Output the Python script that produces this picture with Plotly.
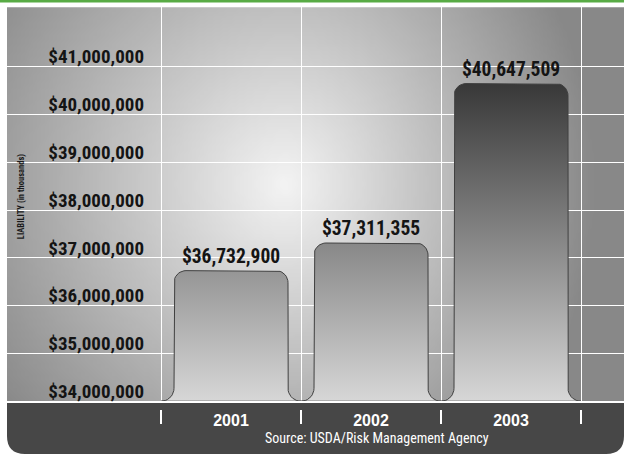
import base64
import struct
import zlib

import numpy as np
import plotly.graph_objects as go

# ---------------- data ----------------
years = ["2001", "2002", "2003"]
liability = [36732900, 37311355, 40647509]
y_tick_values = [34000000, 35000000, 36000000, 37000000, 38000000, 39000000, 40000000, 41000000]
y_tick_labels = ["$34,000,000", "$35,000,000", "$36,000,000", "$37,000,000",
                 "$38,000,000", "$39,000,000", "$40,000,000", "$41,000,000"]
axis_title = "LIABILITY (in thousands)"
source_note = "Source: USDA/Risk Management Agency"

# ---------------- layout geometry (style) ----------------
W, H = 624, 456
ML, MT = 7, 6
plot_w = W - ML
plot_h = H - MT
base_px = 403            # pixel row of the baseline
px_per_cat = 140.0
px_per_unit = 48.0 / 1e6
cat0_px = 231.0
x0 = -(cat0_px - ML) / px_per_cat
x1 = x0 + plot_w / px_per_cat
ymin = y_tick_values[0]
ymax = ymin + (base_px - MT) / px_per_unit
ydom0 = (H - base_px) / plot_h
label_axis_px = 144      # right edge of the y tick labels

COND = "Roboto Condensed, DejaVu Sans Condensed, sans-serif"


# ---------------- background image (radial grey glow) ----------------
def make_png(gray):
    h, w = gray.shape
    raw = b"".join(b"\x00" + bytes(row) for row in gray.astype(np.uint8))

    def chunk(tag, data):
        c = struct.pack(">I", len(data)) + tag + data
        return c + struct.pack(">I", zlib.crc32(tag + data) & 0xffffffff)

    png = b"\x89PNG\r\n\x1a\n"
    png += chunk(b"IHDR", struct.pack(">IIBBBBB", w, h, 8, 0, 0, 0, 0))
    png += chunk(b"IDAT", zlib.compress(raw, 9))
    png += chunk(b"IEND", b"")
    return "data:image/png;base64," + base64.b64encode(png).decode()


gw, gh = 155, 100
gx = ML + (np.arange(gw) + 0.5) * plot_w / gw
gy = MT + (np.arange(gh) + 0.5) * (base_px - MT) / gh
XX, YY = np.meshgrid(gx, gy)
cx, cy = 285.0, 185.0
sx = np.where(XX < cx, 330.0, 290.0)
d = np.sqrt(((XX - cx) / sx) ** 2 + ((YY - cy) / 340.0) ** 2)
g = 244 - 100 * d
g = np.clip(g, 136, 246)
bg_src = make_png(g)


# ---------------- bar outline built from the data ----------------
def bar_outline(ci, value, hw_px=57, rt_px=12, rb_px=13, n=10):
    top_dy = (value - ymin) * px_per_unit
    pts = []
    for t in np.linspace(-np.pi / 2, 0, n):              # left foot fillet
        pts.append((-hw_px - rb_px + rb_px * np.cos(t), rb_px + rb_px * np.sin(t)))
    for t in np.linspace(np.pi, np.pi / 2, n):           # top-left corner
        pts.append((-hw_px + rt_px + rt_px * np.cos(t), top_dy - rt_px + rt_px * np.sin(t)))
    for t in np.linspace(np.pi / 2, 0, n):               # top-right corner
        pts.append((hw_px - rt_px + rt_px * np.cos(t), top_dy - rt_px + rt_px * np.sin(t)))
    for t in np.linspace(np.pi, 1.5 * np.pi, n):         # right foot fillet
        pts.append((hw_px + rb_px + rb_px * np.cos(t), rb_px + rb_px * np.sin(t)))
    pts.append(pts[0])
    xs = [ci + p[0] / px_per_cat for p in pts]
    ys = [ymin + p[1] / px_per_unit for p in pts]
    return xs, ys


fig = go.Figure()

for i, (yr, v) in enumerate(zip(years, liability)):
    xs, ys = bar_outline(i, v)
    fig.add_trace(go.Scatter(
        x=xs, y=ys, mode="lines", fill="toself",
        line=dict(color="#404040", width=1),
        fillgradient=dict(type="vertical",
                          colorscale=[[0, "#d8d8d8"], [1, "#383838"]],
                          start=ymin, stop=max(liability)),
        hoverinfo="skip", showlegend=False, name=yr,
    ))

label_lift = 3 / px_per_unit
fig.add_trace(go.Scatter(
    x=list(range(len(years))), y=[v + label_lift for v in liability],
    xaxis="x2", yaxis="y2",
    mode="text", text=["${:,}".format(v) for v in liability],
    textposition="top center",
    textfont=dict(family=COND, size=19.5, color="#141414", weight="bold"),
    cliponaxis=False, showlegend=False, hoverinfo="skip",
))

boundaries = [i - 0.5 for i in range(len(years) + 1)]

fig.update_layout(
    width=W, height=H,
    margin=dict(l=ML, r=0, t=MT, b=0, pad=0),
    paper_bgcolor="white",
    plot_bgcolor="rgba(0,0,0,0)",
    showlegend=False,
    xaxis=dict(
        range=[x0, x1], tickmode="array", tickvals=boundaries,
        showticklabels=False, ticks="", showgrid=True, gridcolor="white", gridwidth=1,
        zeroline=False, showline=True, linecolor="white", linewidth=1.5,
        anchor="y", fixedrange=True,
    ),
    xaxis2=dict(
        range=[x0, x1], overlaying="x", anchor="free", position=(H - 411) / plot_h,
        side="bottom", tickmode="array", tickvals=list(range(len(years))), ticktext=years,
        ticks="", showgrid=False, zeroline=False, showline=False,
        tickfont=dict(family="Liberation Sans, Arial, sans-serif", size=16, color="white",
                      weight="bold"),
        minor=dict(tickmode="array", tickvals=boundaries, ticks="outside", ticklen=14,
                   tickcolor="white", tickwidth=1.5, showgrid=False),
        fixedrange=True,
    ),
    yaxis=dict(
        range=[ymin, ymax], domain=[ydom0, 1], tickmode="array",
        tickvals=y_tick_values, showticklabels=False,
        ticks="", showgrid=True, gridcolor="white", gridwidth=1, zeroline=False,
        showline=False, fixedrange=True,
    ),
    yaxis2=dict(
        range=[ymin, ymax], overlaying="y", anchor="free", side="left",
        position=(label_axis_px - ML) / plot_w,
        tickmode="array", tickvals=y_tick_values, ticktext=y_tick_labels,
        ticklabelposition="outside", ticklabelshift=-10, ticks="",
        showgrid=False, zeroline=False, showline=False,
        tickfont=dict(family=COND, size=19, color="#141414", weight="bold"),
        fixedrange=True,
    ),
    images=[dict(
        source=bg_src, xref="paper", yref="paper", x=0, y=1,
        sizex=1, sizey=1 - ydom0, xanchor="left", yanchor="top",
        sizing="stretch", layer="below",
    )],
)

rx, ry = 18 / plot_w, 18 / plot_h
band_path = (f"M 0,{ydom0} L 1,{ydom0} L 1,{ry} Q 1,0 {1 - rx},0 "
             f"L {rx},0 Q 0,0 0,{ry} Z")
fig.add_shape(type="path", path=band_path, xref="paper", yref="paper",
              fillcolor="#474747", line=dict(width=0), layer="below")
fig.add_shape(type="rect", xref="paper", yref="paper",
              x0=-ML / plot_w, x1=1, y0=1 + (MT - 2.5) / plot_h, y1=1 + MT / plot_h,
              fillcolor="#58ab45", line=dict(width=0), layer="above")
fig.add_shape(type="line", xref="paper", yref="paper", x0=0, x1=1, y0=1 - 0.5 / plot_h,
              y1=1 - 0.5 / plot_h, line=dict(color="white", width=1.5), layer="above")

fig.add_annotation(text=axis_title, xref="paper", yref="paper",
                   x=(21 - ML) / plot_w, y=(H - 198) / plot_h, textangle=-90,
                   showarrow=False, xanchor="center", yanchor="middle",
                   font=dict(family=COND, size=8.5, color="#1a1a1a", weight="bold"))
fig.add_annotation(text=source_note, xref="paper", yref="paper",
                   x=(377 - ML) / plot_w, y=(H - 440) / plot_h,
                   showarrow=False, xanchor="center", yanchor="middle",
                   font=dict(family=COND, size=14, color="white"))

fig.write_html("out.html", config={"displayModeBar": False},
               post_script="document.body.style.margin='0';")
